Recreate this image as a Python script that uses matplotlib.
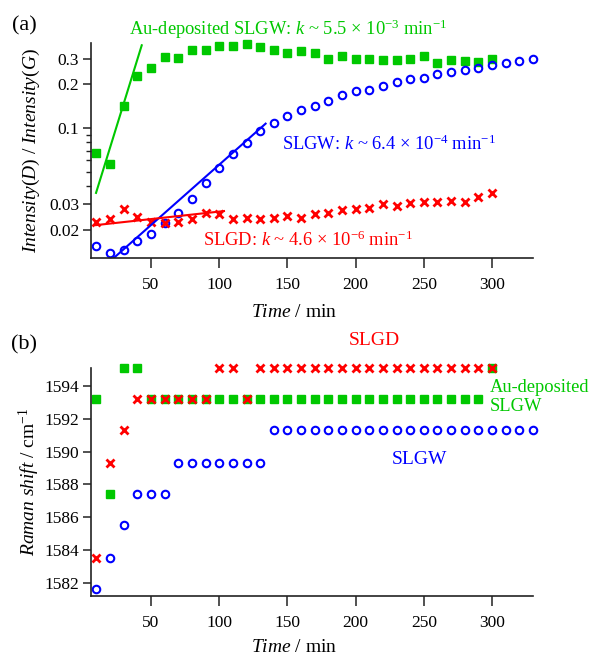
import numpy as np
from matplotlib import pyplot as plt
from matplotlib.ticker import FixedLocator, NullFormatter

plt.rcParams['font.family'] = ['Liberation Serif', 'DejaVu Serif']
plt.rcParams['mathtext.fontset'] = 'custom'
plt.rcParams['mathtext.rm'] = 'Liberation Serif'
plt.rcParams['mathtext.it'] = 'Liberation Serif:italic'

GREEN = '#00c800'
BLUE = '#0000ff'
RED = '#ff0000'

# time / min
t_au = list(range(10, 301, 10))
t_slgw = list(range(10, 331, 10))
t_slgd = list(range(10, 301, 10))

# (a) Intensity(D)/Intensity(G)
ratio_au = [0.068, 0.057, 0.142, 0.227, 0.261, 0.309, 0.306, 0.344, 0.344, 0.370,
            0.370, 0.382, 0.360, 0.344, 0.331, 0.338, 0.330, 0.301, 0.316, 0.301,
            0.301, 0.296, 0.293, 0.301, 0.312, 0.281, 0.296, 0.290, 0.286, 0.299]
ratio_slgw = [0.0155, 0.0138, 0.0145, 0.0168, 0.0187, 0.0224, 0.0259, 0.0325, 0.0417, 0.0534,
              0.0663, 0.0793, 0.0954, 0.109, 0.121, 0.133, 0.143, 0.154, 0.168, 0.180,
              0.184, 0.196, 0.208, 0.218, 0.223, 0.235, 0.243, 0.253, 0.261, 0.271,
              0.281, 0.290, 0.300]
ratio_slgd = [0.0227, 0.0239, 0.0277, 0.0246, 0.0227, 0.0224, 0.0227, 0.0236, 0.0259, 0.0255,
              0.0236, 0.0241, 0.0239, 0.0241, 0.0247, 0.0243, 0.0257, 0.0259, 0.0273, 0.0276,
              0.0281, 0.0299, 0.0292, 0.0304, 0.0312, 0.0312, 0.0316, 0.0312, 0.0334, 0.0356]

# fitted lines: log10(y) = a + b*t over [t0, t1]
fit_au = (np.log10(0.01824), 0.0303, 9.7, 43.2)
fit_slgw = (np.log10(0.0129) - 0.0083 * 23.1, 0.0083, 20, 134)
fit_slgd = (np.log10(0.02155) - 0.00103 * 9.7, 0.00103, 9.7, 103.5)

# (b) Raman shift / cm-1
shift_au = [1593.2, 1587.4, 1595.1, 1595.1] + [1593.2] * 25 + [1595.1]
shift_slgw = [1581.6, 1583.5, 1585.5, 1587.4, 1587.4, 1587.4] + [1589.3] * 7 + [1591.3] * 20
shift_slgd = [1583.5, 1589.3, 1591.3] + [1593.2] * 6 + [1595.1, 1595.1, 1593.2] + [1595.1] * 18

fig = plt.figure(figsize=(5.92, 6.57), dpi=100)
ax1 = fig.add_axes([0.1537, 0.6073, 0.7466, 0.3272])
ax2 = fig.add_axes([0.1537, 0.0928, 0.7466, 0.3471])

sq = dict(marker='s', ms=6.3, color=GREEN, ls='none', mec=GREEN, clip_on=False)
ci = dict(marker='o', ms=5.4, mfc='none', mec=BLUE, mew=1.5, ls='none', clip_on=False)
cr = dict(marker='x', ms=6.0, mec=RED, mew=2.0, ls='none', clip_on=False)

FS = 14
FS_K = 13.3

# --- (a)
ax1.plot(t_au, ratio_au, **sq)
ax1.plot(t_slgw, ratio_slgw, **ci)
ax1.plot(t_slgd, ratio_slgd, **cr)
for (a, b, t0, t1), c in [(fit_au, GREEN), (fit_slgw, BLUE), (fit_slgd, RED)]:
    tt = np.linspace(t0, t1, 50)
    ax1.plot(tt, 10 ** (a + b * tt), color=c, lw=1.5)

ax1.set_yscale('log')
ax1.set_xlim(6, 330)
ax1.set_ylim(0.0128, 0.385)
ax1.yaxis.set_major_locator(FixedLocator([0.02, 0.03, 0.1, 0.2, 0.3]))
ax1.yaxis.set_minor_locator(FixedLocator([0.04, 0.05, 0.06, 0.07, 0.08, 0.09]))
ax1.set_yticklabels(['0.02', '0.03', '0.1', '0.2', '0.3'])
ax1.yaxis.set_minor_formatter(NullFormatter())
ax1.set_ylabel(r'$\mathit{Intensity(D)}$ / $\mathit{Intensity(G)}$', fontsize=FS)
ax1.set_xlabel(r'$\mathit{Time}$ / min', fontsize=FS)

ax1.text(34, 0.475, r'Au-deposited SLGW: $\mathit{k}$ ~ 5.5 × 10$^{-3}$ min$^{-1}$',
         color=GREEN, fontsize=FS_K, va='center', clip_on=False)
ax1.text(146, 0.0776, r'SLGW: $\mathit{k}$ ~ 6.4 × 10$^{-4}$ min$^{-1}$',
         color=BLUE, fontsize=FS_K, va='center')
ax1.text(88, 0.0170, r'SLGD: $\mathit{k}$ ~ 4.6 × 10$^{-6}$ min$^{-1}$',
         color=RED, fontsize=FS_K, va='center')

# --- (b)
ax2.plot(t_au, shift_au, **sq)
ax2.plot(t_slgw, shift_slgw, **ci)
ax2.plot(t_slgd, shift_slgd, **cr)
ax2.set_xlim(6, 330)
ax2.set_ylim(1581.2, 1595.1)
ax2.set_yticks([1582, 1584, 1586, 1588, 1590, 1592, 1594])
ax2.set_ylabel(r'$\mathit{Raman\ shift}$ / cm$^{-1}$', fontsize=FS)
ax2.set_xlabel(r'$\mathit{Time}$ / min', fontsize=FS)

ax2.text(214, 1596.8, 'SLGD', color=RED, fontsize=FS, ha='center', va='center', clip_on=False)
ax2.text(298.5, 1593.33, 'Au-deposited\nSLGW', color=GREEN, fontsize=13.3, va='center',
         linespacing=1.2, clip_on=False)
ax2.text(246.5, 1589.5, 'SLGW', color=BLUE, fontsize=FS, ha='center', va='center')

for ax in (ax1, ax2):
    ax.set_xticks([50, 100, 150, 200, 250, 300])
    for s in ('top', 'right'):
        ax.spines[s].set_visible(False)
    for s in ('left', 'bottom'):
        ax.spines[s].set_linewidth(1.2)
        ax.spines[s].set_color('#222222')
    ax.tick_params(which='major', direction='out', width=1.1, labelsize=12.5, color='#222222')
    ax.tick_params(axis='x', which='major', length=7, pad=6.5)
    ax.tick_params(axis='y', which='major', length=6, pad=2.5)
    ax.tick_params(which='minor', direction='out', length=3.5, width=1.0, color='#222222')
    ax.yaxis.set_label_coords(-0.11, 0.5)

ax1.xaxis.set_label_coords(0.46, -0.215)
ax2.xaxis.set_label_coords(0.46, -0.187)

fig.text(24 / 592, 1 - 26 / 657, '(a)', fontsize=16, ha='center', va='center')
fig.text(24 / 592, 1 - 345 / 657, '(b)', fontsize=16, ha='center', va='center')

plt.savefig('out.png', dpi=100)
